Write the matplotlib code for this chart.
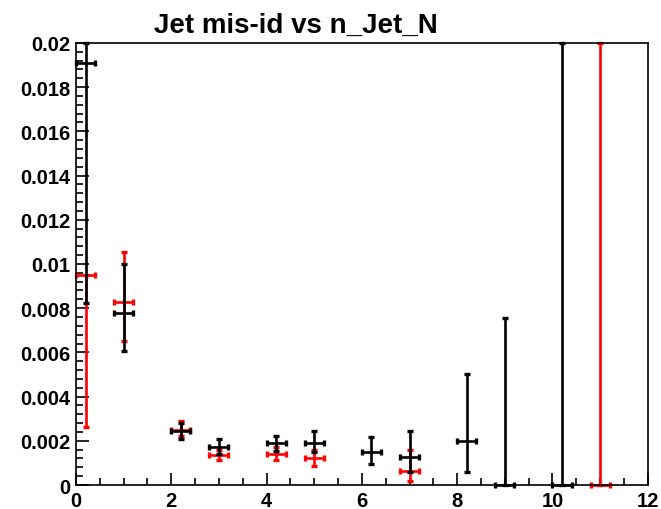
import numpy as np
import matplotlib
matplotlib.use("Agg")
import matplotlib.pyplot as plt
from matplotlib.ticker import MultipleLocator, FixedFormatter, FixedLocator

plt.rcParams['font.family'] = ['Liberation Sans', 'DejaVu Sans']
plt.rcParams['font.weight'] = 'bold'

# black series: centre, lower and upper edge of the error bar
x_blk = [0.2, 1.0, 2.2, 3.0, 4.2, 5.0, 6.2, 7.0, 8.2, 9.0, 10.2]
y_blk = [0.0191, 0.0078, 0.00246, 0.00174, 0.00189, 0.0019, 0.00148, 0.00125, 0.00198, 0.0, 0.0]
lo_blk = [0.00824, 0.00606, 0.00208, 0.0014, 0.00154, 0.0015, 0.00094, 0.0006, 0.00057, 0.0, 0.0]
hi_blk = [0.02, 0.0100, 0.0028, 0.00208, 0.00224, 0.00244, 0.00217, 0.00246, 0.00504, 0.00756, 0.02]

# red series
x_red = [0.2, 1.0, 2.2, 3.0, 4.2, 5.0, 7.0, 11.0]
y_red = [0.00952, 0.0083, 0.0025, 0.00136, 0.00142, 0.0012, 0.00065, 0.0]
lo_red = [0.00262, 0.0065, 0.0022, 0.00112, 0.00112, 0.00088, 0.0002, 0.0]
hi_red = [0.00952, 0.01056, 0.0029, 0.0016, 0.0017, 0.0016, 0.0016, 0.02]

x_half = 0.2

y_ticks = [0.0, 0.002, 0.004, 0.006, 0.008, 0.01, 0.012, 0.014, 0.016, 0.018, 0.02]
y_labels = ['0', '0.002', '0.004', '0.006', '0.008', '0.01', '0.012', '0.014',
            '0.016', '0.018', '0.02']


def draw(ax, x, y, lo, hi, color):
    y = np.array(y)
    yerr = [y - np.array(lo), np.array(hi) - y]
    bars = ax.errorbar(x, y, xerr=x_half, yerr=yerr, fmt='none', ecolor=color,
                       elinewidth=1.9, capsize=2.5, capthick=2.4)
    for art in bars.get_children():
        art.set_clip_on(False)


fig = plt.figure(figsize=(6.61, 5.10), dpi=100)
ax = fig.add_axes([0.115, 0.047, 0.865, 0.867])

draw(ax, x_red, y_red, lo_red, hi_red, 'red')
draw(ax, x_blk, y_blk, lo_blk, hi_blk, 'black')

ax.set_xlim(0, 12)
ax.set_ylim(0, 0.02)
ax.xaxis.set_major_locator(MultipleLocator(2))
ax.xaxis.set_minor_locator(MultipleLocator(0.5))
ax.yaxis.set_major_locator(FixedLocator(y_ticks))
ax.yaxis.set_major_formatter(FixedFormatter(y_labels))
ax.yaxis.set_minor_locator(MultipleLocator(0.0004))

ax.tick_params(which='both', direction='in', top=False, right=False, width=1.2)
ax.tick_params(which='major', length=9, labelsize=14.5)
ax.tick_params(which='minor', length=5)
ax.tick_params(axis='y', pad=4)
ax.tick_params(axis='x', pad=4)
for lab in ax.get_xticklabels() + ax.get_yticklabels():
    lab.set_fontweight('bold')
for s in ax.spines.values():
    s.set_linewidth(1.2)

fig.text(0.448, 0.950, 'Jet mis-id vs n_Jet_N', ha='center', va='center',
         fontsize=20, fontweight='bold')

fig.savefig('out.png', dpi=100)
